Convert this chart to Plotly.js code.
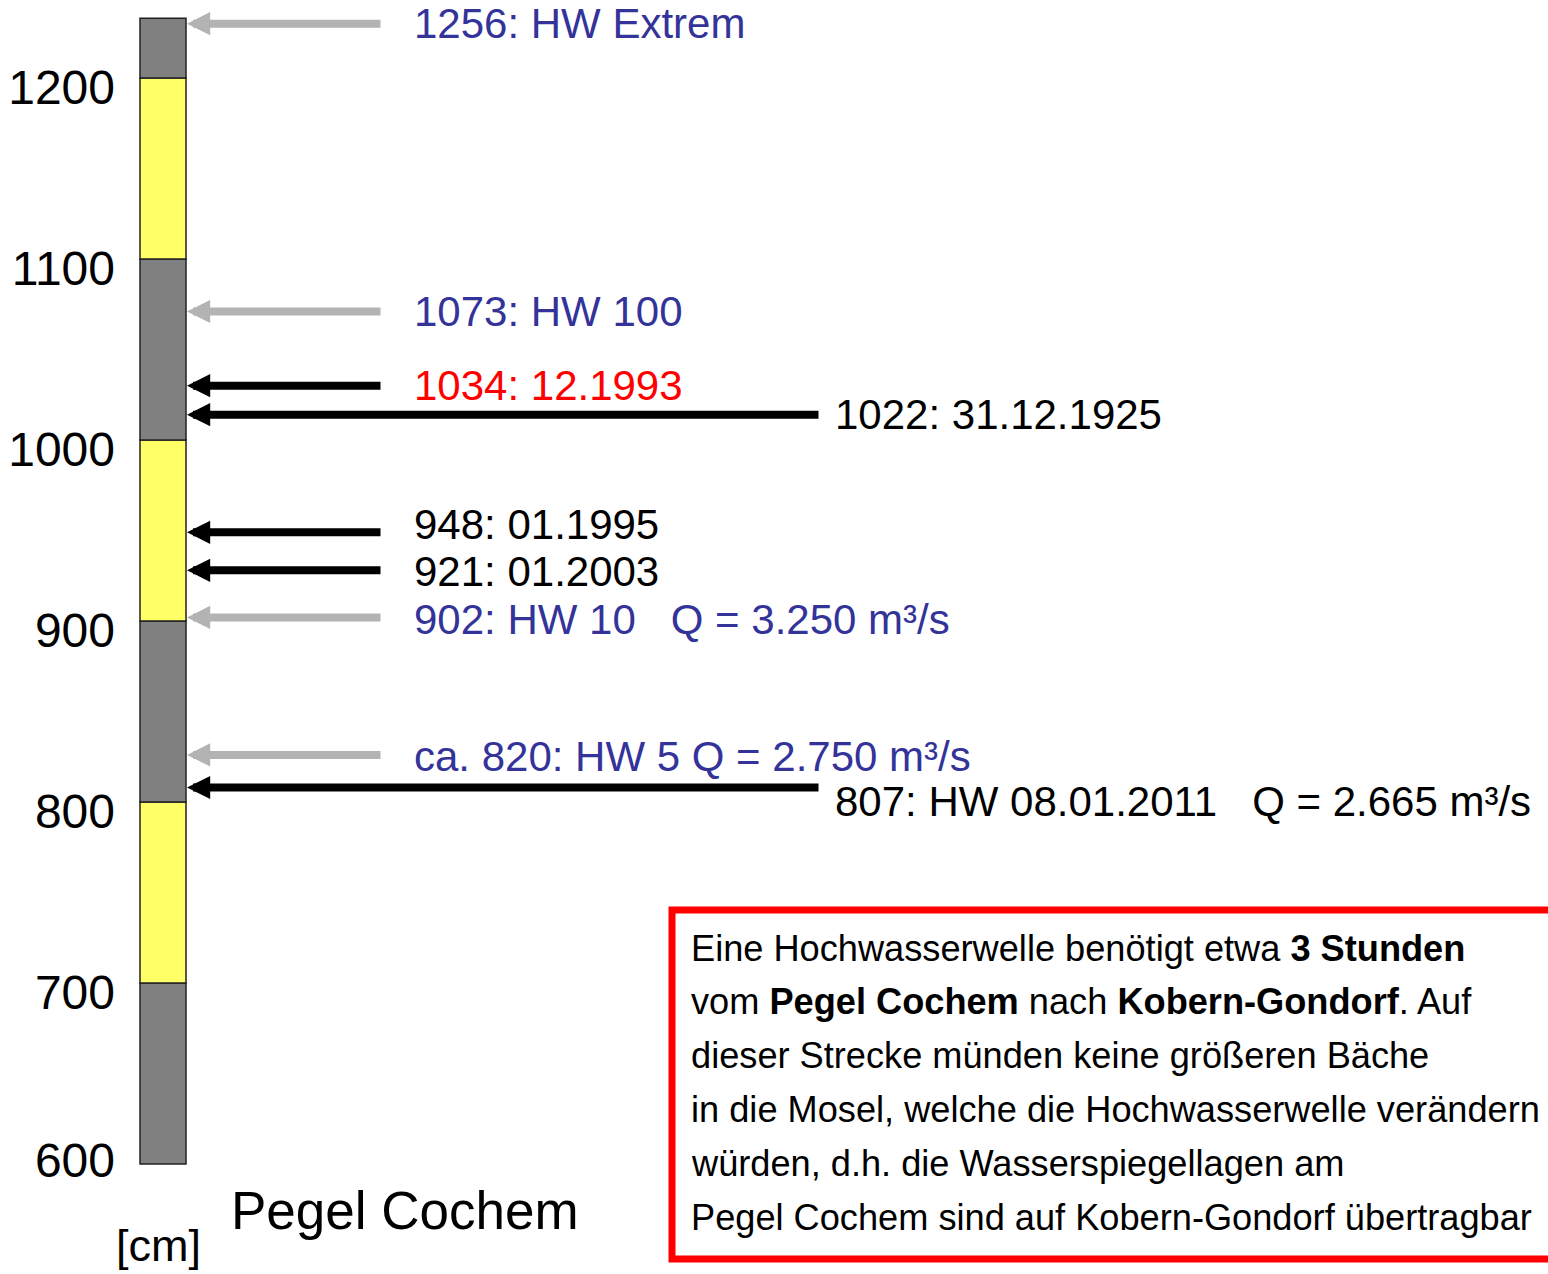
<!DOCTYPE html>
<html><head><meta charset="utf-8">
<script src="https://cdn.plot.ly/plotly-3.0.1.min.js"></script>
<style>html,body{margin:0;padding:0;background:#fff;overflow:hidden}</style>
</head><body><div id="chart" style="width:1548px;height:1274px"></div>
<script>
// ---- data ----
const segBottom = [600, 700, 800, 900, 1000, 1100, 1200];
const segTop    = [700, 800, 900, 1000, 1100, 1200, 1233];
const segKind   = ['gray', 'yellow', 'gray', 'yellow', 'gray', 'yellow', 'gray'];
const tickValues = [700, 800, 900, 1000, 1100, 1200];
const tickLabels = ['700', '800', '900', '1000', '1100', '1200'];
const bottomTickValue = 600;
const bottomTickLabel = '600';
// arrow levels as drawn in the picture (cm)
const arrowLevels = [1230, 1071, 1030, 1014, 949, 928, 902, 826, 808];
const arrowLabels = [
  '1256: HW Extrem',
  '1073: HW 100',
  '1034: 12.1993',
  '1022: 31.12.1925',
  '948: 01.1995',
  '921: 01.2003',
  '902: HW 10\u00A0\u00A0\u00A0Q = 3.250 m³/s',
  'ca. 820: HW 5 Q = 2.750 m³/s',
  '807: HW 08.01.2011\u00A0\u00A0\u00A0Q = 2.665 m³/s'
];
const arrowType = ['ref', 'ref', 'event', 'eventLong', 'event', 'event', 'ref', 'ref', 'eventLong'];
const labelType = ['blue', 'blue', 'red', 'black', 'black', 'black', 'blue', 'blue', 'black'];
const boxLines = [
  'Eine Hochwasserwelle benötigt etwa <b>3 Stunden</b>',
  'vom <b>Pegel Cochem</b> nach <b>Kobern-Gondorf</b>. Auf',
  'dieser Strecke münden keine größeren Bäche',
  'in die Mosel, welche die Hochwasserwelle verändern',
  'würden, d.h. die Wasserspiegellagen am',
  'Pegel Cochem sind auf Kobern-Gondorf übertragbar'
];
const gaugeName = 'Pegel Cochem';
const unitLabel = '[cm]';

// ---- styles ----
const W = 1548, H = 1274;
const FONT = 'Liberation Sans, Arial, Helvetica, sans-serif';
const segColors = {gray: '#808080', yellow: '#FFFF66'};
const arrowColors = {ref: '#B3B3B3', event: '#000000', eventLong: '#000000'};
const arrowEnd = {ref: 382, event: 382, eventLong: 820};
const labelX = {ref: 412, event: 412, eventLong: 833};
const labelColors = {blue: '#333399', red: '#FF0000', black: '#000000'};
const labelYShift = [0, 0, 0, 0, 8, -1, -2, -2, -14];
const L = 125;
const py2paper = py => 1 - py / H;
const px2paper = px => (px - L) / (W - L);

const barTrace = {
  type: 'bar',
  x: segBottom.map(() => 163),
  y: segBottom.map((b, i) => segTop[i] - b),
  base: segBottom,
  width: 46,
  marker: {color: segKind.map(k => segColors[k]), line: {color: '#222222', width: 1.5}},
  hoverinfo: 'skip',
  showlegend: false
};
const helperTrace = {type: 'scatter', x: [], y: [], yaxis: 'y2', showlegend: false, hoverinfo: 'skip'};

const annotations = [];
arrowLevels.forEach((lv, i) => {
  const t = arrowType[i];
  annotations.push({
    xref: 'x', yref: 'y', axref: 'x', ayref: 'y',
    x: 187, y: lv, ax: arrowEnd[t], ay: lv,
    text: '', showarrow: true, arrowhead: 2, arrowsize: 0.58, arrowwidth: 8,
    arrowcolor: arrowColors[t], standoff: 0
  });
  annotations.push({
    xref: 'x', yref: 'y', x: labelX[t], y: lv, yshift: labelYShift[i],
    xanchor: 'left', yanchor: 'middle', showarrow: false,
    text: arrowLabels[i], font: {family: FONT, size: 42, color: labelColors[labelType[i]]}
  });
});
boxLines.forEach((ln, i) => {
  annotations.push({
    xref: 'x', yref: 'paper', x: 689, y: py2paper(948 + i * 53.8),
    xanchor: 'left', yanchor: 'middle', showarrow: false,
    text: ln, font: {family: FONT, size: 36.2, color: '#000'}
  });
});
annotations.push({
  xref: 'paper', yref: 'paper', x: px2paper(229), y: py2paper(1210), xanchor: 'left', yanchor: 'middle',
  showarrow: false, text: gaugeName, font: {family: FONT, size: 53, color: '#000'}
});
annotations.push({
  xref: 'paper', yref: 'paper', x: px2paper(114), y: py2paper(1245), xanchor: 'left', yanchor: 'middle',
  showarrow: false, text: unitLabel, font: {family: FONT, size: 45, color: '#000'}
});

const pxPerUnit = 1.81;
const yTop = 1200 + 78 / pxPerUnit;
const yBottom = 1200 - (H - 78) / pxPerUnit;

const baseY = {
  range: [yBottom, yTop],
  showgrid: false, zeroline: false, showline: false, ticks: '',
  ticklabelstandoff: 9,
  tickfont: {family: FONT, size: 48, color: '#000'}, fixedrange: true
};

const layout = {
  width: W, height: H,
  margin: {l: L, r: 0, t: 0, b: 0, pad: 0},
  paper_bgcolor: '#ffffff', plot_bgcolor: '#ffffff',
  showlegend: false,
  barmode: 'overlay',
  xaxis: {range: [L, W], visible: false, fixedrange: true},
  yaxis: Object.assign({}, baseY, {tickvals: tickValues, ticktext: tickLabels, ticklabelshift: 9}),
  yaxis2: Object.assign({}, baseY, {overlaying: 'y', side: 'left', tickvals: [bottomTickValue], ticktext: [bottomTickLabel], ticklabelshift: -4}),
  shapes: [{
    type: 'rect', xref: 'paper', yref: 'paper', layer: 'above',
    x0: px2paper(672), x1: 1.02, y0: py2paper(1259), y1: py2paper(910),
    line: {color: '#FF0000', width: 7}, fillcolor: 'rgba(0,0,0,0)'
  }],
  annotations: annotations
};

Plotly.newPlot('chart', [barTrace, helperTrace], layout, {staticPlot: true, displayModeBar: false});
</script>
</body></html>
